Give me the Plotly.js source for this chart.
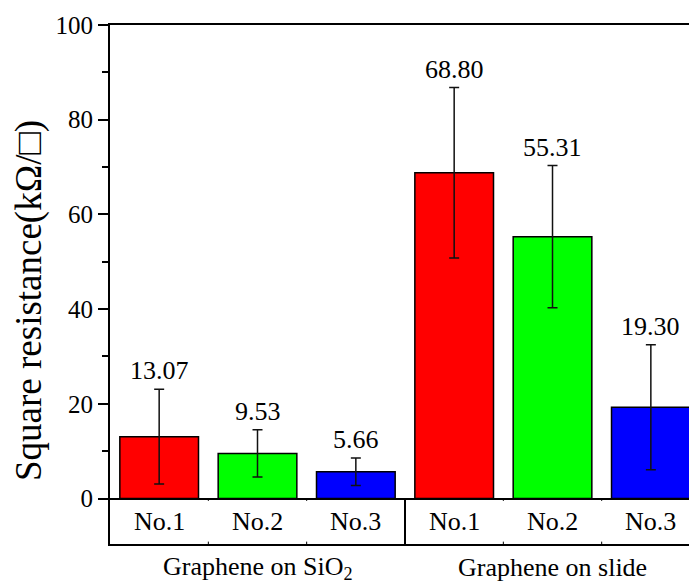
<!DOCTYPE html>
<html>
<head>
<meta charset="utf-8">
<script src="https://cdn.plot.ly/plotly-3.0.1.min.js"></script>
<style>html,body{margin:0;padding:0;background:#fff;}#chart{width:689px;height:585px;}</style>
</head>
<body>
<div id="chart"></div>
<script>
const categories = ['No.1', 'No.2', 'No.3', 'No.1', 'No.2', 'No.3'];
const groups = ['Graphene on SiO<sub>2</sub>', 'Graphene on slide'];
const groupCenters = [1, 4];
const values = [13.07, 9.53, 5.66, 68.80, 55.31, 19.30];
const errors = [10.0, 5.0, 2.9, 18.0, 15.0, 13.2];
const valueLabels = ['13.07', '9.53', '5.66', '68.80', '55.31', '19.30'];
const colors = ['#ff0000', '#00ff00', '#0000ff', '#ff0000', '#00ff00', '#0000ff'];
const yTitle = 'Square resistance(k\u03A9/\u25A1)';

const FONT = 'Liberation Serif';
const idx = categories.map((c, i) => i);
const yMin = -9.6;

const trace = {
  type: 'bar',
  x: idx,
  y: values,
  width: 0.8,
  marker: { color: colors, line: { color: '#000', width: 1.5 } },
  error_y: { type: 'data', array: errors, visible: true, color: '#111', thickness: 1.5, width: 5 },
  hoverinfo: 'none'
};

const annotations = [];
idx.forEach(i => {
  annotations.push({
    x: i, y: values[i] + errors[i], xref: 'x', yref: 'y',
    text: valueLabels[i], showarrow: false, yanchor: 'bottom', yshift: 2,
    font: { family: FONT, size: 26, color: '#000' }
  });
  annotations.push({
    x: i, y: yMin / 2, xref: 'x', yref: 'y',
    text: categories[i], showarrow: false, yanchor: 'middle',
    font: { family: FONT, size: 26, color: '#000' }
  });
});
groups.forEach((g, k) => {
  annotations.push({
    x: groupCenters[k], y: -0.046, xref: 'x', yref: 'paper',
    text: g, showarrow: false, yanchor: 'middle',
    font: { family: FONT, size: 26, color: '#000' }
  });
});
annotations.push({
  x: -0.1400, y: 0.47, xref: 'paper', yref: 'paper',
  text: yTitle, showarrow: false, textangle: -90,
  xanchor: 'center', yanchor: 'middle',
  font: { family: FONT, size: 37, color: '#000' }
});

const shapes = [
  { type: 'line', xref: 'x', yref: 'y', x0: 2.5, x1: 2.5, y0: yMin, y1: 0, line: { color: '#000', width: 2 } }
];
[0.5, 1.5, 3.5, 4.5].forEach(b => {
  shapes.push({ type: 'line', xref: 'x', yref: 'y', x0: b, x1: b, y0: 0, y1: -0.5, line: { color: '#000', width: 1 } });
  shapes.push({ type: 'line', xref: 'x', yref: 'y', x0: b, x1: b, y0: yMin, y1: yMin + 0.5, line: { color: '#000', width: 1 } });
});

const layout = {
  width: 689, height: 585,
  margin: { l: 110, r: 0, t: 25, b: 41 },
  paper_bgcolor: '#fff', plot_bgcolor: '#fff',
  showlegend: false,
  xaxis: {
    range: [-0.5, 5.388],
    showline: true, linecolor: '#000', linewidth: 2, mirror: true,
    showgrid: false, zeroline: false, ticks: '', showticklabels: false
  },
  yaxis: {
    range: [yMin, 100],
    dtick: 20,
    ticks: 'outside', ticklen: 10, tickwidth: 2, tickcolor: '#000',
    minor: { dtick: 10, ticks: 'outside', ticklen: 6, tickwidth: 2, tickcolor: '#000' },
    showline: true, linecolor: '#000', linewidth: 2,
    showgrid: false,
    zeroline: true, zerolinecolor: '#000', zerolinewidth: 2,
    tickfont: { family: FONT, size: 25, color: '#000' }
  },
  annotations: annotations,
  shapes: shapes
};

Plotly.newPlot('chart', [trace], layout, { displayModeBar: false, staticPlot: true });
</script>
</body>
</html>
